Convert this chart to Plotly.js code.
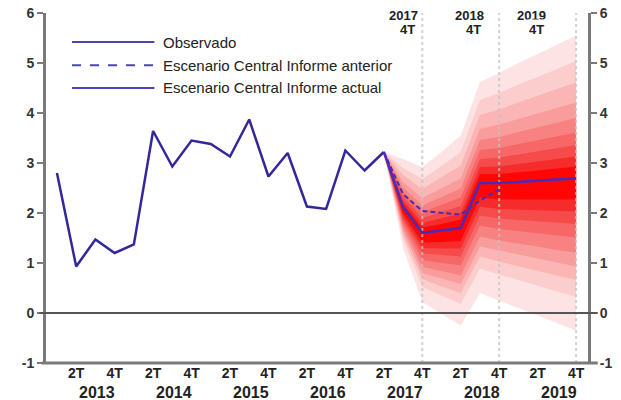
<!DOCTYPE html>
<html><head><meta charset="utf-8">
<script src="https://cdn.plot.ly/plotly-3.0.1.min.js"></script>
<style>html,body{margin:0;padding:0;background:#fff;}#chart{width:621px;height:400px;}</style>
</head><body><div id="chart"></div>
<script>
// ---- data ----
const quarters = ['1T13','2T13','3T13','4T13','1T14','2T14','3T14','4T14',
  '1T15','2T15','3T15','4T15','1T16','2T16','3T16','4T16',
  '1T17','2T17','3T17','4T17','1T18','2T18','3T18','4T18',
  '1T19','2T19','3T19','4T19'];
const observedQuarters = quarters.slice(0, 18);
const observed = [2.80, 0.93, 1.47, 1.20, 1.37, 3.64, 2.93, 3.45, 3.38, 3.13, 3.87, 2.73, 3.20, 2.13, 2.08, 3.25, 2.85, 3.22];

const forecastQuarters = ['2T17','3T17','4T17','1T18','2T18','3T18','4T18','1T19','2T19','3T19','4T19'];
const centralActual = [3.22, 2.12, 1.60, 1.65, 1.70, 2.60, 2.60, 2.62, 2.65, 2.67, 2.69];
const previousQuarters = ['2T17','3T17','4T17','1T18','2T18','3T18','4T18'];
const centralPrevious = [3.22, 2.38, 2.04, 2.00, 1.97, 2.25, 2.47];

// fan chart band limits (outer 90% -> inner 10%)
const upper90 = [3.22, 3.08, 2.92, 3.22, 3.55, 4.62, 4.80, 5.00, 5.18, 5.37, 5.55];
const lower90 = [3.22, 1.30, 0.22, -0.02, -0.25, 0.40, 0.25, 0.10, -0.05, -0.20, -0.35];
const upper80 = [3.22, 2.90, 2.68, 2.94, 3.22, 4.26, 4.40, 4.57, 4.72, 4.88, 5.04];
const lower80 = [3.22, 1.48, 0.52, 0.35, 0.18, 0.89, 0.77, 0.65, 0.54, 0.43, 0.32];
const upper70 = [3.22, 2.76, 2.48, 2.71, 2.95, 3.96, 4.07, 4.21, 4.35, 4.48, 4.61];
const lower70 = [3.22, 1.56, 0.68, 0.53, 0.40, 1.13, 1.03, 0.93, 0.84, 0.75, 0.66];
const upper60 = [3.22, 2.62, 2.30, 2.49, 2.69, 3.68, 3.77, 3.88, 3.99, 4.10, 4.21];
const lower60 = [3.22, 1.64, 0.80, 0.69, 0.58, 1.33, 1.24, 1.16, 1.08, 1.01, 0.93];
const upper50 = [3.22, 2.51, 2.15, 2.32, 2.49, 3.46, 3.52, 3.62, 3.71, 3.80, 3.90];
const lower50 = [3.22, 1.71, 0.92, 0.84, 0.75, 1.53, 1.45, 1.39, 1.33, 1.26, 1.21];
const upper40 = [3.22, 2.41, 2.02, 2.16, 2.31, 3.26, 3.30, 3.38, 3.46, 3.53, 3.61];
const lower40 = [3.22, 1.79, 1.06, 1.00, 0.95, 1.75, 1.68, 1.64, 1.60, 1.55, 1.51];
const upper30 = [3.22, 2.33, 1.90, 2.02, 2.14, 3.08, 3.11, 3.17, 3.23, 3.29, 3.36];
const lower30 = [3.22, 1.86, 1.19, 1.16, 1.13, 1.95, 1.89, 1.86, 1.84, 1.81, 1.78];
const upper20 = [3.22, 2.25, 1.80, 1.89, 1.99, 2.92, 2.93, 2.98, 3.03, 3.08, 3.13];
const lower20 = [3.22, 1.92, 1.30, 1.29, 1.29, 2.13, 2.08, 2.07, 2.06, 2.04, 2.03];
const upper10 = [3.22, 2.18, 1.71, 1.78, 1.87, 2.78, 2.78, 2.81, 2.85, 2.89, 2.93];
const lower10 = [3.22, 1.99, 1.41, 1.42, 1.44, 2.31, 2.27, 2.27, 2.27, 2.27, 2.27];

const bands = [
  [upper90, lower90], [upper80, lower80], [upper70, lower70], [upper60, lower60],
  [upper50, lower50], [upper40, lower40], [upper30, lower30], [upper20, lower20], [upper10, lower10]
];
const bandColors = ['#fde3e3','#fccdcd','#fbb5b5','#f99c9c','#f88282','#f76767','#f64b4b','#f62c2c','#ff0505'];

const tickQuarters = ['2T13','4T13','2T14','4T14','2T15','4T15','2T16','4T16','2T17','4T17','2T18','4T18','2T19','4T19'];
const tickLabels = ['2T','4T','2T','4T','2T','4T','2T','4T','2T','4T','2T','4T','2T','4T'];
const yTickVals = [-1, 0, 1, 2, 3, 4, 5, 6];
const yTickLabels = ['-1', '0', '1', '2', '3', '4', '5', '6'];
const years = ['2013','2014','2015','2016','2017','2018','2019'];
const forecastYearEnds = ['4T17','4T18','4T19'];
const forecastYearLabels = ['2017','2018','2019'];

const legendNames = ['Observado','Escenario Central Informe anterior','Escenario Central Informe actual'];

// ---- helpers ----
const qx = q => quarters.indexOf(q);
const fx = forecastQuarters.map(qx);

const lineBlue = '#33289a';
const lineActual = '#4a2bb8';
const axisGray = '#7a7a7a';
const textCol = '#222';
const F = 'Liberation Sans, Arial, sans-serif';

const traces = [];
bands.forEach(([up, lo], i) => {
  traces.push({
    type: 'scatter', mode: 'lines', fill: 'toself', fillcolor: bandColors[i],
    x: fx.concat(fx.slice().reverse()),
    y: up.concat(lo.slice().reverse()),
    line: {width: 0}, hoverinfo: 'skip', showlegend: false
  });
});
forecastYearEnds.forEach(q => {
  traces.push({type: 'scatter', mode: 'lines', x: [qx(q), qx(q)], y: [-1, 6],
    line: {color: 'rgba(195,195,195,0.75)', width: 2, dash: 'dot'}, showlegend: false, hoverinfo: 'skip'});
});
traces.push({type: 'scatter', mode: 'lines', name: legendNames[1],
  x: previousQuarters.map(qx), y: centralPrevious,
  line: {color: lineActual, width: 2, dash: '5px,3px'}, showlegend: false});
traces.push({type: 'scatter', mode: 'lines', name: legendNames[0],
  x: observedQuarters.map(qx), y: observed,
  line: {color: lineBlue, width: 2.5}, showlegend: false});
traces.push({type: 'scatter', mode: 'lines', name: legendNames[2],
  x: fx, y: centralActual,
  line: {color: lineActual, width: 2.5}, showlegend: false});
// invisible trace to materialise right axis
traces.push({type: 'scatter', mode: 'lines', x: [0], y: [0], yaxis: 'y2',
  line: {width: 0}, showlegend: false, hoverinfo: 'skip'});

// legend (custom)
const legendY = [0.917, 0.851, 0.786];
const legendDash = ['solid', 'dash', 'solid'];
const shapes = [];
const annotations = [];
legendNames.forEach((n, i) => {
  shapes.push({type: 'line', xref: 'paper', yref: 'paper', x0: 0.048, x1: 0.200, y0: legendY[i], y1: legendY[i],
    line: {color: '#4b45b8', width: 2, dash: legendDash[i]}});
  annotations.push({xref: 'paper', yref: 'paper', x: 0.212, y: legendY[i], xanchor: 'left', yanchor: 'middle',
    text: n, showarrow: false, font: {family: F, size: 15, color: textCol}});
});
// zero line & bottom line spanning slightly past axes
shapes.push({type: 'line', xref: 'paper', yref: 'y', x0: -0.012, x1: 1.018, y0: 0, y1: 0,
  line: {color: '#555', width: 2}, layer: 'above'});
shapes.push({type: 'line', xref: 'paper', yref: 'paper', x0: -0.008, x1: 1.018, y0: 0, y1: 0,
  line: {color: axisGray, width: 3}, layer: 'above'});

// year labels
years.forEach((y, i) => {
  annotations.push({xref: 'x', yref: 'paper', x: qx('2T' + y.slice(2)) + 1.1, y: -0.083,
    xanchor: 'center', yanchor: 'middle', text: y, showarrow: false,
    font: {family: F, size: 16, color: textCol, weight: 'bold'}});
});
// forecast year markers at top
const topX = [0.690, 0.811, 0.927];
forecastYearLabels.forEach((y, i) => {
  annotations.push({xref: 'paper', yref: 'paper', x: topX[i], y: 0.992, xanchor: 'right', yanchor: 'middle',
    text: y, showarrow: false, font: {family: F, size: 13, color: textCol, weight: 'bold'}});
  annotations.push({xref: 'paper', yref: 'paper', x: topX[i] - 0.003, y: 0.952, xanchor: 'right', yanchor: 'middle',
    text: '4T', showarrow: false, bgcolor: i === 2 ? '#ffffff' : 'rgba(0,0,0,0)', borderpad: 2,
    font: {family: F, size: 13, color: textCol, weight: 'bold'}});
});

const yTicks = {
  range: [-1, 6], tickvals: yTickVals, ticktext: yTickLabels, ticks: 'outside', ticklen: 6, tickwidth: 2,
  tickcolor: axisGray, showline: true, linecolor: axisGray, linewidth: 3, showgrid: false, zeroline: false,
  tickfont: {family: F, size: 14, color: '#333', weight: 'bold'}, fixedrange: true
};

const layout = {
  width: 621, height: 400,
  margin: {l: 46, r: 33, t: 13, b: 37, pad: 0},
  paper_bgcolor: '#fff', plot_bgcolor: '#fff',
  showlegend: false,
  xaxis: {range: [-0.57, 27.62], tickvals: tickQuarters.map(qx), ticktext: tickLabels,
    ticks: '', showline: false, showgrid: false, zeroline: false,
    tickfont: {family: F, size: 14, color: textCol, weight: 'bold'}, fixedrange: true},
  yaxis: Object.assign({}, yTicks, {side: 'left'}),
  yaxis2: Object.assign({}, yTicks, {side: 'right', overlaying: 'y'}),
  shapes: shapes,
  annotations: annotations
};

Plotly.newPlot('chart', traces, layout, {displayModeBar: false, staticPlot: true});
</script></body></html>
